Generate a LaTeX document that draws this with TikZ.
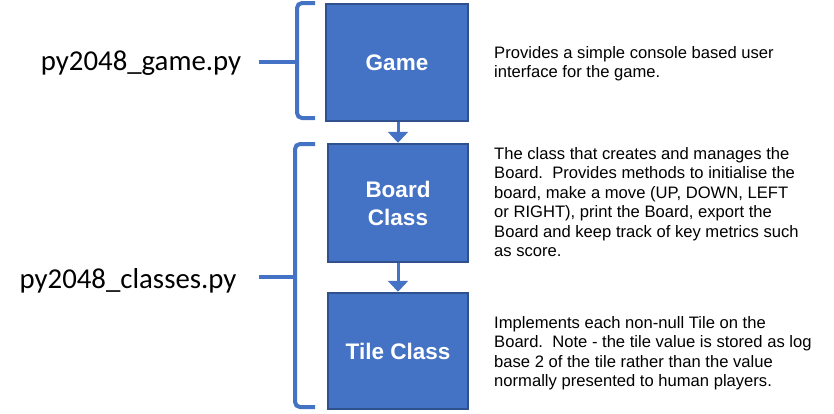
\documentclass[tikz,border=0pt]{standalone}
\usepackage{fontspec}
\setmainfont{Liberation Sans}
\newfontfamily\calibri{Carlito}
\usepackage{tikz}
\usetikzlibrary{arrows.meta}
\definecolor{boxblue}{HTML}{4472C4}
\definecolor{boxedge}{HTML}{2F528F}
\tikzset{
  classbox/.style={draw=boxedge, fill=boxblue, line width=2.5pt, text=white,
    font=\bfseries\fontsize{22.5}{28}\selectfont, align=center, inner sep=0pt},
  note/.style={anchor=north west, inner sep=0pt, align=left,
    font=\fontsize{16.6}{19.5}\selectfont},
  filelabel/.style={inner sep=0pt, font=\calibri\fontsize{28.8}{32}\selectfont},
  flow/.style={draw=boxblue, line width=3pt, -{Triangle[width=20pt,length=11pt]}},
  bracket/.style={draw=boxblue, line width=4pt, rounded corners=5pt},
}
\begin{document}
\begin{tikzpicture}[x=1pt,y=-1pt]
      \useasboundingbox (0,0) rectangle (834,413);
      % class boxes
      \node [classbox, minimum width=142pt, minimum height=117pt] (game)  at (397,62.5) {Game};
      \node [classbox, minimum width=140pt, minimum height=118pt] (board) at (398,203)  {Board\\Class};
      \node [classbox, minimum width=140pt, minimum height=116pt] (tile)  at (398,351)  {Tile Class};
      \draw [flow] (game.south -| board.north) -- (board.north);
      \draw [flow] (board.south) -- (tile.north);
      % descriptions
      \node [note] (game note)  at (494,46)  {Provides a simple console based user\\interface for the game.};
      \node [note] (board note) at (494,147) {The class that creates and manages the\\Board.\ \ Provides methods to initialise the\\board, make a move (UP, DOWN, LEFT\\or RIGHT), print the Board, export the\\Board and keep track of key metrics such\\as score.};
      \node [note] (tile note)  at (494,316) {Implements each non-null Tile on the\\Board.\ \ Note - the tile value is stored as log\\base 2 of the tile rather than the value\\normally presented to human players.};
      % file braces
      \coordinate (game top)    at (315,3);
      \coordinate (game mid)    at (297,62);
      \coordinate (game bot)    at (315,118);
      \coordinate (game tip)    at (259,62);
      \coordinate (classes top) at (315,144);
      \coordinate (classes mid) at (295,277);
      \coordinate (classes bot) at (315,407);
      \coordinate (classes tip) at (259,277);
      \draw [bracket] (game top) -| (game mid) |- (game bot);
      \draw [bracket] (game mid) -- (game tip);
      \draw [bracket] (classes top) -| (classes mid) |- (classes bot);
      \draw [bracket] (classes mid) -- (classes tip);
      \node [filelabel] (game file)    at (141,63)  {py2048\_game.py};
      \node [filelabel] (classes file) at (128,281) {py2048\_classes.py};
    \end{tikzpicture}
\end{document}
